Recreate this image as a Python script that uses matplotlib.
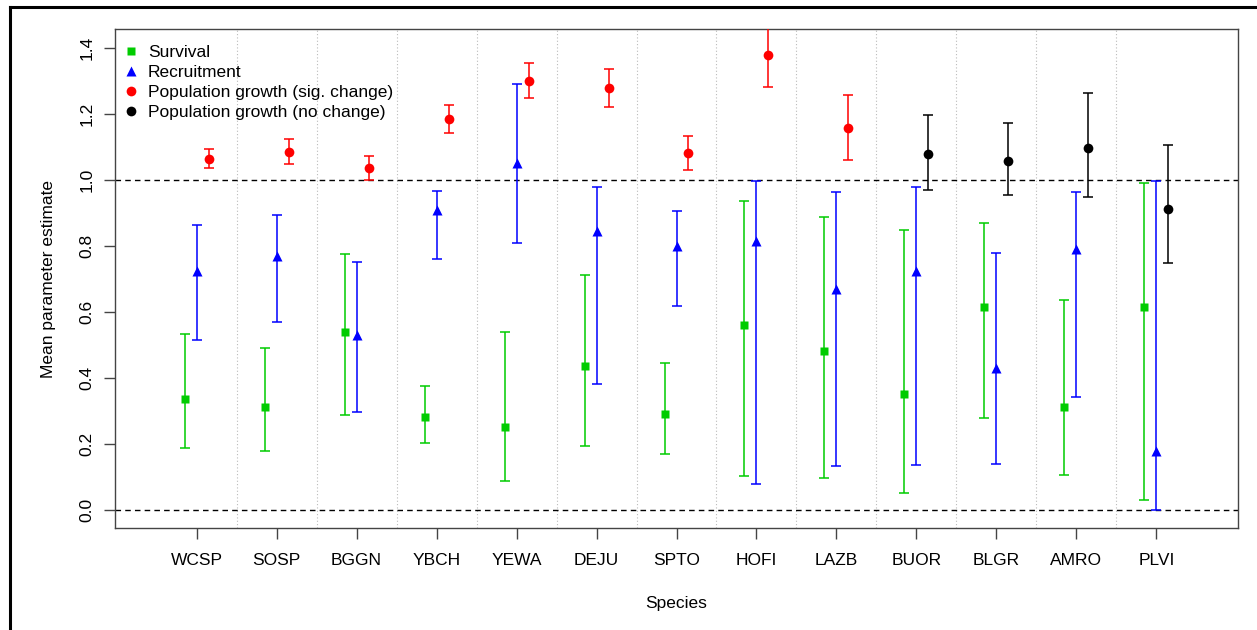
import matplotlib
matplotlib.use("Agg")
import matplotlib.pyplot as plt
from matplotlib.lines import Line2D
import numpy as np

species = ['WCSP', 'SOSP', 'BGGN', 'YBCH', 'YEWA', 'DEJU', 'SPTO', 'HOFI',
           'LAZB', 'BUOR', 'BLGR', 'AMRO', 'PLVI']
surv = [0.338, 0.313, 0.541, 0.282, 0.253, 0.437, 0.290, 0.561, 0.482, 0.353, 0.614, 0.313, 0.616]
surv_lo = [0.187, 0.178, 0.288, 0.204, 0.089, 0.195, 0.169, 0.102, 0.097, 0.051, 0.278, 0.106, 0.029]
surv_hi = [0.533, 0.490, 0.775, 0.375, 0.540, 0.712, 0.447, 0.937, 0.889, 0.848, 0.870, 0.636, 0.990]
rec = [0.724, 0.771, 0.532, 0.909, 1.051, 0.847, 0.801, 0.816, 0.671, 0.723, 0.430, 0.792, 0.180]
rec_lo = [0.516, 0.569, 0.296, 0.760, 0.808, 0.381, 0.619, 0.080, 0.134, 0.136, 0.138, 0.342, 0.000]
rec_hi = [0.865, 0.894, 0.752, 0.967, 1.290, 0.979, 0.906, 0.998, 0.965, 0.978, 0.780, 0.965, 0.998]
pop = [1.064, 1.086, 1.036, 1.184, 1.300, 1.279, 1.082, 1.380, 1.157, 1.079, 1.058, 1.096, 0.911]
pop_lo = [1.036, 1.049, 1.001, 1.142, 1.248, 1.223, 1.030, 1.283, 1.062, 0.971, 0.955, 0.950, 0.749]
pop_hi = [1.094, 1.124, 1.073, 1.227, 1.356, 1.337, 1.133, 1.480, 1.259, 1.197, 1.174, 1.263, 1.105]
pop_sig = [True, True, True, True, True, True, True, True, True, False, False, False, False]

plt.rcParams['font.family'] = ['Liberation Sans', 'DejaVu Sans']
FS = 12.5

W, H = 1257, 630
fig = plt.figure(figsize=(W / 100, H / 100), dpi=100)
ax = fig.add_axes([115 / W, 1 - 528 / H, (1238 - 115) / W, (528 - 29) / H])

x = np.arange(1, len(species) + 1)
off = 0.15
green = '#00CC00'
cap = 3.6
elw = 1.1

def eb(xs, ys, lo, hi, color):
    ys = np.asarray(ys); lo = np.asarray(lo); hi = np.asarray(hi)
    ax.errorbar(xs, ys, yerr=[ys - lo, hi - ys], fmt='none', ecolor=color,
                elinewidth=elw, capsize=cap, capthick=elw, zorder=3)

eb(x - off, surv, surv_lo, surv_hi, green)
eb(x, rec, rec_lo, rec_hi, 'blue')
sig = np.array(pop_sig)
popa, plo, phi = np.array(pop), np.array(pop_lo), np.array(pop_hi)
eb(x[sig] + off, popa[sig], plo[sig], phi[sig], 'red')
eb(x[~sig] + off, popa[~sig], plo[~sig], phi[~sig], 'black')

ms_s, ms_t, ms_c = 6, 7.5, 7
ax.plot(x - off, surv, 's', color=green, ms=ms_s, mec='none', zorder=4)
ax.plot(x, rec, '^', color='blue', ms=ms_t, mec='none', zorder=4)
ax.plot(x[sig] + off, popa[sig], 'o', color='red', ms=ms_c, mec='none', zorder=4)
ax.plot(x[~sig] + off, popa[~sig], 'o', color='black', ms=ms_c, mec='none', zorder=4)

for xv in np.arange(1.5, len(species), 1.0):
    ax.axvline(xv, color='#BBBBBB', lw=0.8, ls=(0, (1, 2)), zorder=1)
for yv in (0.0, 1.0):
    ax.axhline(yv, color='black', lw=1.0, ls=(0, (4, 3)), zorder=2)

ax.set_xlim(-0.02, 14.02)
ax.set_ylim(-0.0545, 1.458)
ax.set_xticks(x)
ax.set_xticklabels(species)
ax.set_yticks(np.arange(0, 1.41, 0.2))
ax.set_yticklabels(['%.1f' % v for v in np.arange(0, 1.41, 0.2)], rotation=90, va='center')
ax.tick_params(axis='both', length=8, width=1, color='#444444', labelsize=FS)
ax.tick_params(axis='x', pad=10)
ax.tick_params(axis='y', pad=7)
for s in ax.spines.values():
    s.set_color('#444444')
    s.set_linewidth(1.0)

ax.set_xlabel('Species', fontsize=FS, labelpad=20)
ax.set_ylabel('Mean parameter estimate', fontsize=FS, labelpad=17)

handles = [
    Line2D([], [], marker='s', ls='none', color=green, ms=ms_s, mec='none'),
    Line2D([], [], marker='^', ls='none', color='blue', ms=ms_t, mec='none'),
    Line2D([], [], marker='o', ls='none', color='red', ms=ms_c, mec='none'),
    Line2D([], [], marker='o', ls='none', color='black', ms=ms_c, mec='none'),
]
labels = ['Survival', 'Recruitment', 'Population growth (sig. change)',
          'Population growth (no change)']
ax.legend(handles, labels, loc='upper left', bbox_to_anchor=(0.0, 0.985),
          frameon=False, fontsize=FS, handlelength=0.9, handletextpad=0.5,
          labelspacing=0.28, borderaxespad=0.3, borderpad=0.2)

fig.add_artist(Line2D([10 / W, 1.0], [1 - 7 / H, 1 - 7 / H], color='black', lw=2.2,
                      transform=fig.transFigure))
fig.add_artist(Line2D([10 / W, 10 / W], [0.0, 1 - 7 / H], color='black', lw=2.2,
                      transform=fig.transFigure))

fig.savefig('out.png', dpi=100)
